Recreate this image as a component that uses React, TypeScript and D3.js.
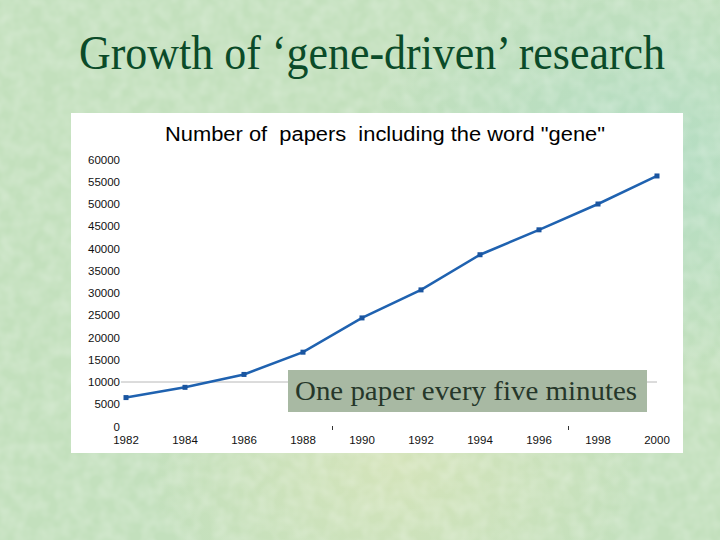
import React, { useRef, useEffect } from 'react';
import * as d3 from 'd3';

// papers per year containing the word "gene"
const years = [1982, 1984, 1986, 1988, 1990, 1992, 1994, 1996, 1998, 2000];
const papers = [6500, 8800, 11700, 16700, 24400, 30700, 38600, 44200, 50000, 56300];
const yTicks = [0, 5000, 10000, 15000, 20000, 25000, 30000, 35000, 40000, 45000, 50000, 55000, 60000];
const minorMarks = [1989, 1997];

const slideTitle = 'Growth of \u2018gene-driven\u2019 research';
const chartTitle = 'Number of  papers  including the word "gene"';
const note = 'One paper every five minutes';

function App() {
  const svgRef = useRef<SVGSVGElement>(null);

  useEffect(() => {
    const svg = d3.select(svgRef.current);
    svg.selectAll('*').remove();

    const width = 720;
    const height = 540;

    // background: pale green slide texture
    const defs = svg.append('defs');
    const g1 = defs.append('radialGradient').attr('id', 'warm').attr('cx', '0.55').attr('cy', '0.85').attr('r', '0.35');
    g1.append('stop').attr('offset', '0%').attr('stop-color', '#e0e6b8').attr('stop-opacity', 0.6);
    g1.append('stop').attr('offset', '100%').attr('stop-color', '#e0e6b8').attr('stop-opacity', 0);
    const g2 = defs.append('radialGradient').attr('id', 'cool').attr('cx', '0.9').attr('cy', '0.3').attr('r', '0.4');
    g2.append('stop').attr('offset', '0%').attr('stop-color', '#b0dcc4').attr('stop-opacity', 0.8);
    g2.append('stop').attr('offset', '100%').attr('stop-color', '#b0dcc4').attr('stop-opacity', 0);
    const f = defs.append('filter').attr('id', 'tex');
    f.append('feTurbulence').attr('type', 'fractalNoise').attr('baseFrequency', 0.07).attr('numOctaves', 2).attr('seed', 3);
    f.append('feColorMatrix').attr('type', 'matrix')
      .attr('values', '0 0 0 0 1  0 0 0 0 1  0 0 0 0 1  0 0 0 0.4 -0.12');

    svg.append('rect').attr('width', width).attr('height', height).attr('fill', '#c3e0bd');
    svg.append('rect').attr('width', width).attr('height', height).attr('fill', 'url(#warm)');
    svg.append('rect').attr('width', width).attr('height', height).attr('fill', 'url(#cool)');
    svg.append('rect').attr('width', width).attr('height', height).attr('filter', 'url(#tex)');

    svg.append('text')
      .attr('x', 79)
      .attr('y', 69)
      .attr('textLength', 586)
      .attr('lengthAdjust', 'spacingAndGlyphs')
      .attr('font-family', '"Liberation Serif", "Times New Roman", serif')
      .attr('font-size', '48px')
      .attr('fill', '#0b4b29')
      .text(slideTitle);

    // white chart panel
    svg.append('rect')
      .attr('x', 71).attr('y', 113)
      .attr('width', 612).attr('height', 340)
      .attr('fill', '#ffffff');

    const x = d3.scaleLinear().domain([1982, 2000]).range([126, 657]);
    const y = d3.scaleLinear().domain([0, 60000]).range([426.5, 159.5]);

    const sans = '"Liberation Sans", Arial, sans-serif';

    svg.append('text')
      .attr('x', 165)
      .attr('y', 141)
      .attr('textLength', 440)
      .attr('lengthAdjust', 'spacingAndGlyphs')
      .attr('font-family', sans)
      .attr('font-size', '20px')
      .attr('fill', '#000')
      .style('white-space', 'pre')
      .text(chartTitle);

    // single grid line at 10000
    svg.append('line')
      .attr('x1', 121).attr('x2', x(2000))
      .attr('y1', y(10000)).attr('y2', y(10000))
      .attr('stroke', '#b8b8b8').attr('stroke-width', 1);

    svg.append('g')
      .selectAll('text')
      .data(yTicks)
      .join('text')
      .attr('x', 120)
      .attr('y', d => y(d))
      .attr('dy', '0.35em')
      .attr('text-anchor', 'end')
      .attr('font-family', sans)
      .attr('font-size', '11.5px')
      .attr('fill', '#111')
      .text(d => d);

    svg.append('g')
      .selectAll('text')
      .data(years)
      .join('text')
      .attr('x', d => x(d))
      .attr('y', 444)
      .attr('text-anchor', 'middle')
      .attr('font-family', sans)
      .attr('font-size', '11.5px')
      .attr('fill', '#111')
      .text(d => d);

    svg.append('g')
      .selectAll('line')
      .data(minorMarks)
      .join('line')
      .attr('x1', d => x(d)).attr('x2', d => x(d))
      .attr('y1', 426).attr('y2', 430)
      .attr('stroke', '#333').attr('stroke-width', 1);

    const pts = years.map((yr, i) => [yr, papers[i]] as [number, number]);

    svg.append('path')
      .datum(pts)
      .attr('d', d3.line<[number, number]>().x(d => x(d[0])).y(d => y(d[1])))
      .attr('fill', 'none')
      .attr('stroke', '#1f62b0')
      .attr('stroke-width', 2.5);

    svg.append('g')
      .selectAll('rect')
      .data(pts)
      .join('rect')
      .attr('x', d => x(d[0]) - 2.5)
      .attr('y', d => y(d[1]) - 2.5)
      .attr('width', 5)
      .attr('height', 5)
      .attr('fill', '#1a55a0');

    // annotation box
    svg.append('rect')
      .attr('x', 288).attr('y', 370)
      .attr('width', 359).attr('height', 42)
      .attr('fill', '#a8b9a3');

    svg.append('text')
      .attr('x', 295)
      .attr('y', 400)
      .attr('textLength', 342)
      .attr('lengthAdjust', 'spacingAndGlyphs')
      .attr('font-family', '"Liberation Serif", "Times New Roman", serif')
      .attr('font-size', '28px')
      .attr('fill', '#26372a')
      .text(note);
  }, []);

  return (
    <div style={{ position: 'absolute', left: 0, top: 0 }}>
      <svg ref={svgRef} width={720} height={540} style={{ display: 'block' }}></svg>
    </div>
  );
}

export default App;
